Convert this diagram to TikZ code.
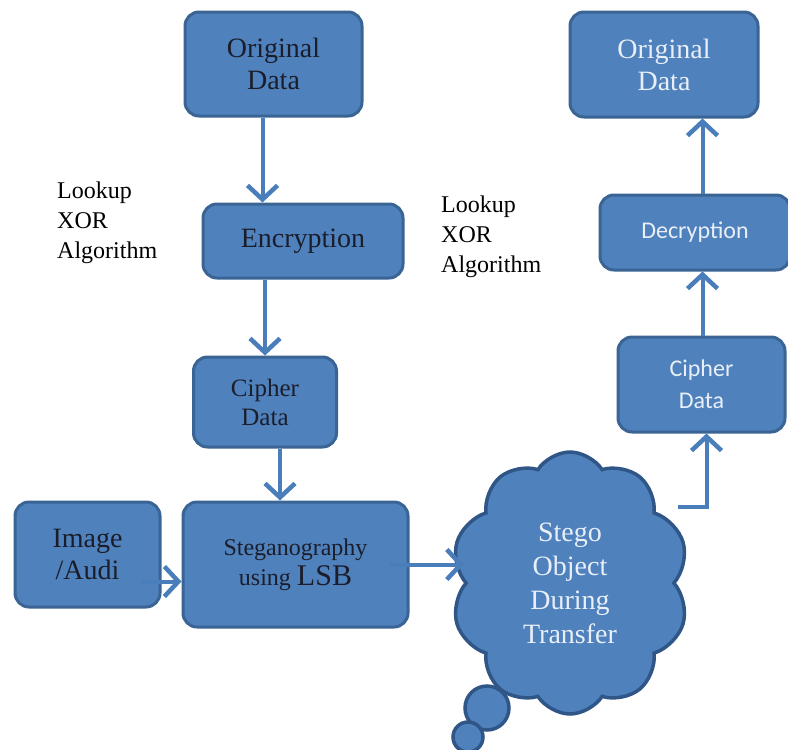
\documentclass[tikz,border=0pt]{standalone}
\usepackage{fontspec}
\setmainfont{Liberation Serif}
\newfontfamily\calib{Carlito}
\usetikzlibrary{arrows.meta,shapes.symbols}
\definecolor{boxfill}{HTML}{4F81BD}
\definecolor{boxline}{HTML}{3A6494}
\definecolor{arrcol}{HTML}{4A7EBB}
\definecolor{darktxt}{HTML}{1B1E2A}
\definecolor{lighttxt}{HTML}{E8EFF8}
\definecolor{cloudline}{HTML}{2F5687}
\tikzset{
  box/.style={rectangle, rounded corners=14pt, fill=boxfill, draw=boxline, line width=3pt,
    align=center, inner sep=0pt, text=darktxt, font=\fontsize{28}{32}\selectfont},
  lbox/.style={box, text=lighttxt},
  arr/.style={draw=arrcol, line width=4pt,
    -{Straight Barb[length=14pt 0 0,width=30pt 0 0,line width=4.5pt]}},
  lab/.style={align=left, anchor=west, inner sep=0pt, text=black, font=\fontsize{24}{30}\selectfont},
  puff/.style={circle, fill=boxfill, draw=cloudline, line width=3.5pt, inner sep=0pt}
}
\begin{document}
\begin{tikzpicture}[x=1pt,y=-1pt]
\useasboundingbox (0,0) rectangle (788,750);
% left column
\node[box, minimum width=177pt, minimum height=104pt] (origL) at (273.5,64) {Original\\Data};
\node[box, minimum width=200pt, minimum height=74pt] (enc) at (303,241) {Encryption};
\node[box, minimum width=143pt, minimum height=90pt, font=\fontsize{25}{29}\selectfont] (cipherL) at (265,402) {Cipher\\Data};
\node[box, minimum width=145pt, minimum height=105pt] (img) at (87.5,554.5) {Image\\/Audi};
\node[box, minimum width=225pt, minimum height=125pt, font=\fontsize{24}{30}\selectfont] (steg) at (295.5,564.5) {Steganography\\using {\fontsize{30}{30}\selectfont LSB}};
% labels
\node[lab] (lk1) at (57,223) {Lookup\\XOR\\Algorithm};
\node[lab] (lk2) at (441,237) {Lookup\\XOR\\Algorithm};
% right column
\node[lbox, minimum width=188pt, minimum height=105pt] (origR) at (664,64.5) {Original\\Data};
\node[lbox, minimum width=190pt, minimum height=75pt, font=\calib\fontsize{24}{28}\selectfont] (decr) at (695,232.5) {Decryption};
\node[lbox, minimum width=167pt, minimum height=95pt, font=\calib\fontsize{24}{32}\selectfont] (cipherR) at (701.5,384.5) {Cipher\\Data};
% cloud
\node[puff, minimum size=44pt] (p1) at (487,708) {};
\node[puff, minimum size=30pt] (p2) at (468,737) {};
\node[cloud, cloud puffs=10, cloud puff arc=115, aspect=0.92, fill=boxfill, draw=cloudline,
  line width=3.5pt, minimum width=238pt, minimum height=262pt, inner sep=0pt,
  align=center, text=lighttxt, font=\fontsize{28}{34}\selectfont] (cloud) at (570,583)
  {Stego\\Object\\During\\Transfer};
% connectors
\draw[arr] ([xshift=-11pt]origL.south) -- ([xshift=-11pt]origL.south |- enc.north);
\draw[arr] (cipherL.north |- enc.south) -- (cipherL.north);
\draw[arr] ([xshift=15pt]cipherL.south) -- ([xshift=15pt]cipherL.south |- steg.north);
\draw[arr] ([xshift=-20pt,yshift=-27pt]img.east) -- ([yshift=-27pt]img.east -| steg.west);
\draw[arr] ([xshift=-20pt]steg.east) -- (steg.east -| cloud.west);
\coordinate (cexit) at (678,507);
\draw[arr] (cexit) -| ([xshift=5pt]cipherR.south);
\draw[arr] ([xshift=1pt]cipherR.north) -- ([xshift=1pt]cipherR.north |- decr.south);
\draw[arr] ([xshift=1pt]cipherR.north |- decr.north) -- ([xshift=1pt]cipherR.north |- origR.south);
\end{tikzpicture}
\end{document}
